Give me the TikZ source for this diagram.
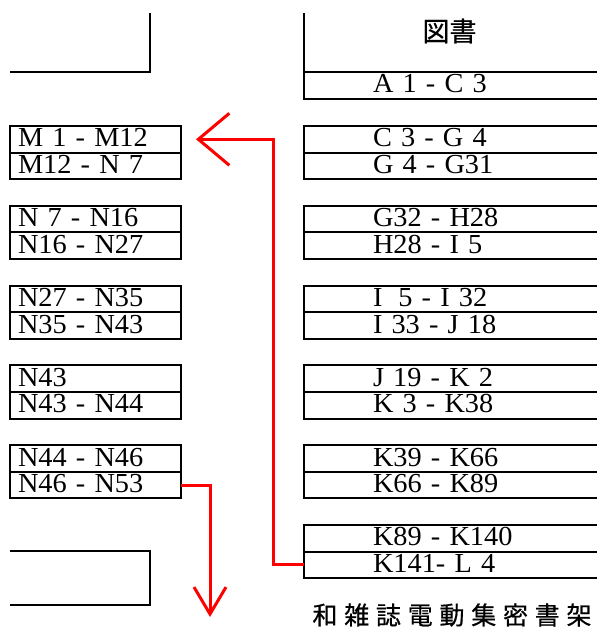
\documentclass[tikz,border=0pt]{standalone}
\usepackage{fontspec}
\setmainfont{Liberation Serif}[FakeStretch=1.03]
\newfontfamily\jpfont{Noto Sans CJK JP}[FakeBold=0.6]
\newfontfamily\jpspaced{Noto Sans CJK JP}[LetterSpace=27, FakeBold=0.6]
\usetikzlibrary{positioning, arrows.meta}

\begin{document}
\begin{tikzpicture}[x=1pt, y=-1pt, node distance=0pt, every node/.style={font=\fontsize{27.5}{30}\selectfont}]
  \tikzset{
    lrow/.style={draw, line width=2pt, outer sep=0pt, minimum height=26.6pt, inner ysep=0pt, inner xsep=8pt,
      text width=155pt, align=left, text height=17pt, text depth=2pt},
    rrow/.style={lrow, inner xsep=0pt, text width=296pt, execute at begin node=\hspace*{69pt}},
    shelf/.style={line width=2pt},
    flow/.style={red, line width=3pt}
  }
  \useasboundingbox (0,0) rectangle (597,627);

  % left shelves
  \draw[shelf] (10,72) -- (150,72) -- (150,13);
  \node[lrow, anchor=north west] (m1) at (10,126) {M 1 - M12};
  \node[lrow, below=of m1] (m12) {M12 - N 7};
  \node[lrow, below=26.6pt of m12] (n7) {N 7 - N16};
  \node[lrow, below=of n7] (n16) {N16 - N27};
  \node[lrow, below=26.6pt of n16] (n27) {N27 - N35};
  \node[lrow, below=of n27] (n35) {N35 - N43};
  \node[lrow, below=26.6pt of n35] (n43) {N43};
  \node[lrow, below=of n43] (n43b) {N43 - N44};
  \node[lrow, below=26.6pt of n43b] (n44) {N44 - N46};
  \node[lrow, below=of n44] (n46) {N46 - N53};
  \draw[shelf] (10,551) -- (150,551) -- (150,605) -- (10,605);

  % right shelves
  \node[font=\jpfont\fontsize{27}{30}\selectfont] (head) at (449.5,31) {図書};
  \node[rrow, anchor=north west] (a1) at (304,72) {A 1 - C 3};
  \draw[shelf] (a1.north west) -- (304,13);
  \node[rrow, anchor=north west] (c3) at (304,126) {C 3 - G 4};
  \node[rrow, below=of c3] (g4) {G 4 - G31};
  \node[rrow, below=26.6pt of g4] (g32) {G32 - H28};
  \node[rrow, below=of g32] (h28) {H28 - I 5};
  \node[rrow, below=26.6pt of h28] (i5) {I\hspace{16pt}5 - I 32};
  \node[rrow, below=of i5] (i33) {I 33 - J 18};
  \node[rrow, below=26.6pt of i33] (j19) {J 19 - K 2};
  \node[rrow, below=of j19] (k3) {K 3 - K38};
  \node[rrow, below=26.6pt of k3] (k39) {K39 - K66};
  \node[rrow, below=of k39] (k66) {K66 - K89};
  \node[rrow, below=26.6pt of k66] (k89) {K89 - K140};
  \node[rrow, below=of k89] (k141) {K141- L 4};
  \node[font=\jpspaced\fontsize{25}{28}\selectfont] (cap) at (452,615) {和雑誌電動集密書架};

  % red route
  \coordinate (m1tip) at ([xshift=15pt]m1.east);
  \coordinate (downtip) at (210,617);
  \draw[flow, -{Straight Barb[length=31pt, width=52pt]}] (k141.west) -| ([xshift=77pt]m1tip) -- (m1tip);
  \draw[flow, -{Straight Barb[length=27pt, width=32pt]}] (n46.east) -| (downtip);
\end{tikzpicture}
\end{document}
